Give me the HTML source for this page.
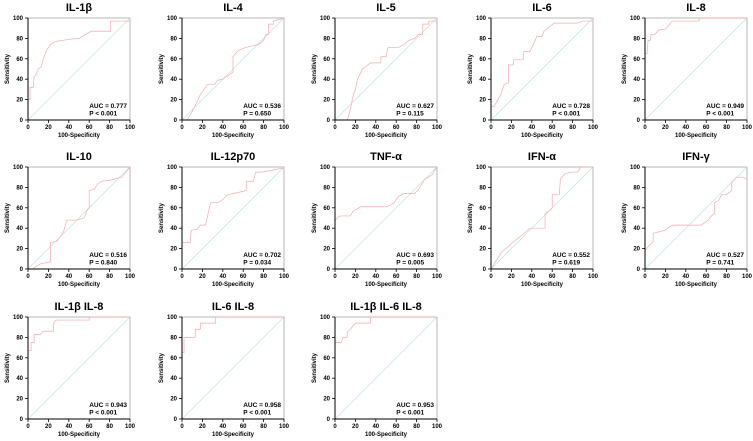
<!DOCTYPE html>
<html><head><meta charset="utf-8"><style>
html,body{margin:0;padding:0;background:#fff;}
svg{display:block;font-family:"Liberation Sans",Arial,sans-serif;}
</style></head><body>
<svg id="fig" width="753" height="441" viewBox="0 0 753 441"></svg>
<script>
const titles=["IL-1β","IL-4","IL-5","IL-6","IL-8","IL-10","IL-12p70","TNF-α","IFN-α","IFN-γ","IL-1β IL-8","IL-6 IL-8","IL-1β IL-6 IL-8"];
const aucs=["0.777","0.536","0.627","0.728","0.949","0.516","0.702","0.693","0.552","0.527","0.943","0.958","0.953"];
const pvals=["< 0.001","= 0.650","= 0.115","< 0.001","< 0.001","= 0.840","= 0.034","= 0.005","= 0.619","= 0.741","< 0.001","< 0.001","< 0.001"];
const ticks=[0,20,40,60,80,100];
const fpr=[
[0,0,2,2,5,6,8,10,13,15,18,22,27,40,50,55,62,81,81,100,100],
[0,5,8,12,18,25,32,35,40,50,50,55,62,70,75,80,82,85,85,90,90,100],
[0,12,15,18,20,22,27,35,45,45,50,52,62,68,72,78,82,86,86,92,92,100,100],
[0,0,3,5,8,10,13,17,17,22,22,32,32,38,42,45,50,52,58,62,85,90,100,100],
[0,0,2,3,5,6,10,13,20,25,27,53,53,100],
[0,5,7,12,22,22,28,32,35,38,48,55,58,60,60,65,68,72,80,85,88,92,100],
[0,0,8,9,15,18,23,28,35,40,45,55,63,63,70,72,78,100],
[0,0,2,5,15,18,22,25,50,55,58,62,68,78,82,85,88,95,100],
[0,5,10,20,30,35,38,53,53,58,60,60,67,68,72,78,85,88,100],
[0,0,5,8,8,20,22,25,28,55,58,62,65,68,68,72,75,80,85,85,88,90,96,100],
[0,0,3,3,6,6,12,15,25,25,27,60,60,100],
[0,0,2,2,13,13,18,18,33,33,100],
[0,0,6,8,12,12,15,20,35,35,100]
];
const tpr=[
[0,20,20,32,32,42,45,50,52,60,68,74,77,79,80,83,87,87,97,97,100],
[0,0,5,12,25,35,35,39,40,47,62,68,71,73,74,78,84,84,94,94,97,100],
[0,0,10,25,30,40,50,56,56,62,62,71,71,74,78,80,84,84,94,94,97,97,100],
[0,13,13,17,22,26,35,36,54,54,59,59,67,67,75,82,82,87,92,95,95,97,97,100],
[0,65,65,78,78,84,84,88,89,95,97,97,100,100],
[0,0,2,5,7,26,27,32,37,48,48,50,58,60,77,78,83,86,87,88,89,90,100],
[0,26,26,38,39,43,43,65,65,68,73,75,77,86,86,95,95,99],
[0,47,50,52,52,57,59,61,61,63,65,71,74,74,78,83,88,92,100],
[0,8,16,25,33,37,40,40,54,58,60,73,73,88,93,95,95,100,100],
[0,18,24,27,35,38,40,42,43,43,45,48,52,54,65,67,73,73,77,85,88,90,90,88],
[0,67,67,75,75,83,83,86,86,93,97,97,100,100],
[0,65,65,80,80,88,88,94,94,100,100],
[0,75,75,80,80,85,88,94,94,100,100]
];
const NS="http://www.w3.org/2000/svg";
const svg=document.getElementById('fig');
const colX=[28,182,335,491,645], rowY=[18,167,317], W=102,H=102;
function mk(tag,attrs,parent){const e=document.createElementNS(NS,tag);for(const k in attrs)e.setAttribute(k,attrs[k]);parent.appendChild(e);return e;}
titles.forEach((t,i)=>{
  const x0=colX[i%5], y0=rowY[Math.floor(i/5)];
  const sx=v=>x0+v/100*W, sy=v=>y0+H-v/100*H;
  const g=mk('g',{},svg);
  
  
  const tt=mk('text',{x:x0+W/2,y:y0-7,'text-anchor':'middle','font-size':'11','font-weight':'bold',fill:'#000'},g);tt.textContent=t;
  
  
  const box=mk('rect',{x:x0,y:y0,width:W,height:H,fill:'none',stroke:'#999','stroke-width':'0.7'},g);
  
  
  const ref=mk('line',{x1:sx(0),y1:sy(0),x2:sx(100),y2:sy(100),stroke:'#bfe4e2','stroke-width':'0.7'},g);
  
  
  const pts=fpr[i].map((v,j)=>sx(v)+','+sy(tpr[i][j])).join(' ');
  const roc=mk('polyline',{points:pts,fill:'none',stroke:'#f4abab','stroke-width':'0.7'},g);
  
  
  mk('line',{x1:x0,y1:y0,x2:x0,y2:y0+H,stroke:'#000','stroke-width':'1'},g);
  mk('line',{x1:x0,y1:y0+H,x2:x0+W,y2:y0+H,stroke:'#000','stroke-width':'1'},g);
  ticks.forEach(v=>{
    mk('line',{x1:x0-3,y1:sy(v),x2:x0,y2:sy(v),stroke:'#000','stroke-width':'0.8'},g);
    const ly=mk('text',{x:x0-5,y:sy(v)+2,'text-anchor':'end','font-size':'6','font-weight':'bold'},g);ly.textContent=v;
    
    
    mk('line',{x1:sx(v),y1:y0+H,x2:sx(v),y2:y0+H+3,stroke:'#000','stroke-width':'0.8'},g);
    const lx=mk('text',{x:sx(v),y:y0+H+9,'text-anchor':'middle','font-size':'6','font-weight':'bold'},g);lx.textContent=v;
    
    
  });
  const yl=mk('text',{x:0,y:0,'text-anchor':'middle','font-size':'6','font-weight':'bold',transform:`translate(${x0-19},${y0+H/2}) rotate(-90)`},g);yl.textContent='Sensitivity';
  
  
  const xl=mk('text',{x:x0+W/2,y:y0+H+17,'text-anchor':'middle','font-size':'6','font-weight':'bold'},g);xl.textContent='100-Specificity';
  
  
  const a=mk('text',{x:sx(60),y:y0+H-12,'font-size':'6.5','font-weight':'bold'},g);a.textContent='AUC = '+aucs[i];
  
  
  const p=mk('text',{x:sx(60),y:y0+H-4.5,'font-size':'6.5','font-weight':'bold'},g);p.textContent='P '+pvals[i];
  
  
});
</script>
</body></html>
